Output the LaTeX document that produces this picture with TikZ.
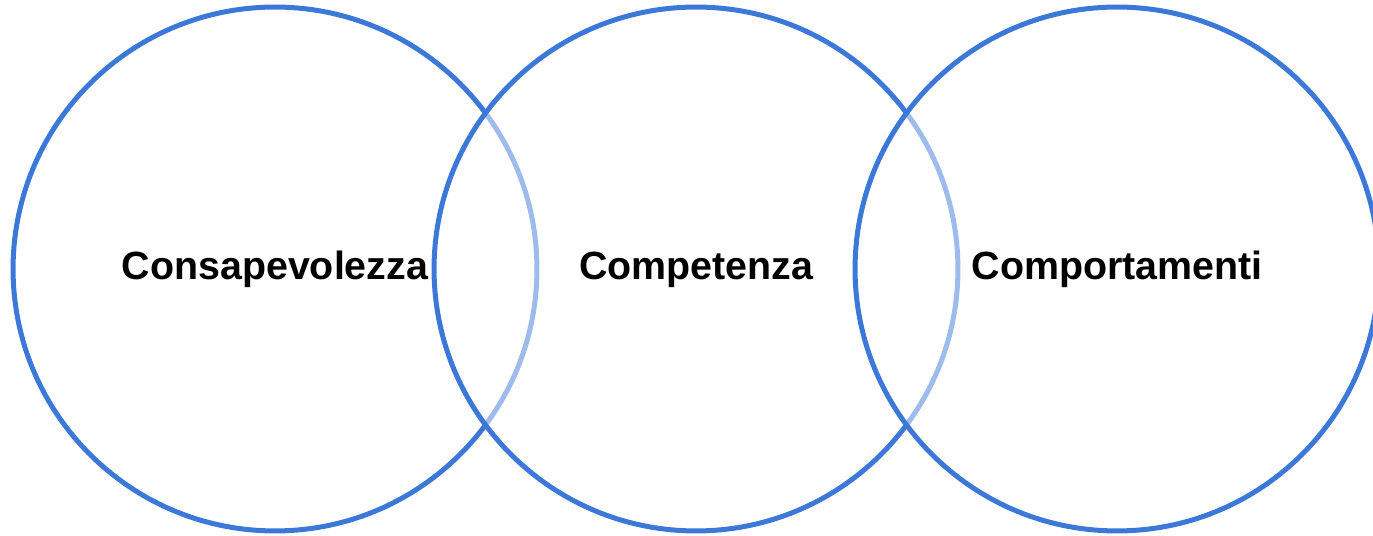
\documentclass[tikz,border=0pt]{standalone}
\usepackage{fontspec}
\newfontfamily\labelfont{Liberation Sans}
\definecolor{ringblue}{HTML}{3C78D8}

\begin{document}
\begin{tikzpicture}[
    x=0.02cm, y=-0.02cm,
    ring/.style={circle,draw=ringblue,line width=0.1cm,fill=white,fill opacity=0.5,
      draw opacity=1,inner sep=0pt,minimum size=10.48cm},
    word/.style={anchor=base,text=black},
    font=\labelfont\bfseries\fontsize{22.4}{27}\selectfont
    ]

    \useasboundingbox (0,0) rectangle (1373,536);

    \node (consap) [ring] at (275,269) {};
    \node (compet) [ring] at (696,269) {};
    \node (comport) [ring] at (1117,269) {};

    \node (consaptext) [word] at ([yshift=-0.22cm]consap.center) {Consapevolezza};
    \node (competext) [word] at ([yshift=-0.22cm]compet.center) {Competenza};
    \node (comporttext) [word] at ([yshift=-0.22cm]comport.center) {Comportamenti};

  \end{tikzpicture}
\end{document}
